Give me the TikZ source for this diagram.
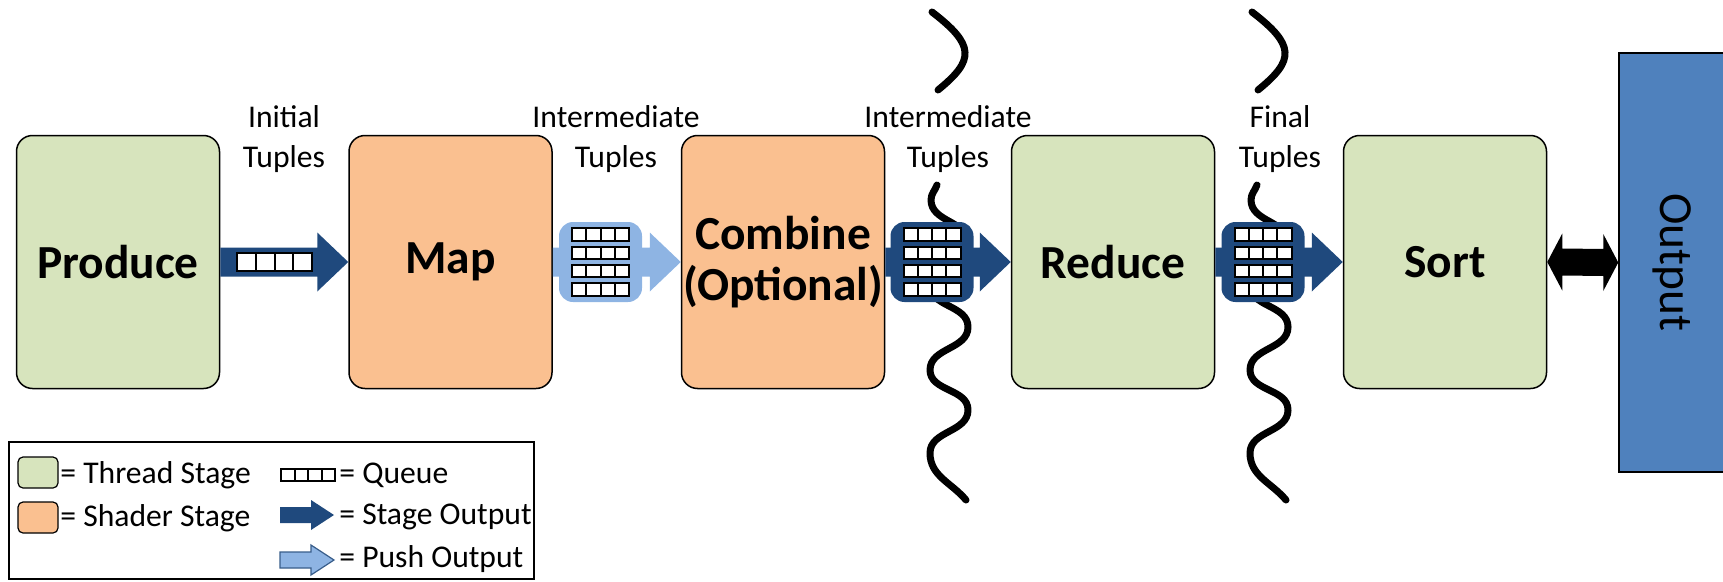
\documentclass[tikz,border=0pt]{standalone}
\usepackage{fontspec}
\setmainfont{Carlito}
\usepackage{tikz}
\usetikzlibrary{calc}
\definecolor{threadgreen}{HTML}{D7E4BD}
\definecolor{shaderorange}{HTML}{FAC090}
\definecolor{outblue}{HTML}{4F81BD}
\definecolor{stagedark}{HTML}{1F497D}
\definecolor{pushlight}{HTML}{8EB4E3}
\definecolor{pushedge}{HTML}{385D8A}
\newlength{\pxu}
\setlength{\pxu}{0.2mm}
\tikzset{
  stageBox/.style={draw=black, line width=1.5\pxu, rounded corners=16\pxu, minimum width=203\pxu, minimum height=253\pxu, inner sep=0pt, align=center, font=\fontsize{27}{29}\selectfont\bfseries},
  threadStage/.style={stageBox, fill=threadgreen},
  shaderStage/.style={stageBox, fill=shaderorange},
  outBox/.style={draw=black, line width=1.5\pxu, fill=outblue, minimum width=419\pxu, minimum height=106\pxu, inner sep=0pt, rotate=-90, font=\fontsize{27}{30}\selectfont},
  queueBlk/.style={rounded corners=14\pxu, minimum width=83\pxu, minimum height=80\pxu, inner sep=0pt},
  queueCell/.style={draw=black, fill=white, line width=2\pxu},
  tupleLbl/.style={align=center, inner sep=0pt, font=\fontsize{18}{22.8}\selectfont},
  legendTxt/.style={anchor=west, inner sep=0pt, font=\fontsize{18}{22}\selectfont},
  swatch/.style={draw=black, line width=1.2\pxu, rounded corners=5\pxu, minimum width=40\pxu, minimum height=31\pxu, inner sep=0pt},
  threadCut/.style={draw=black, line width=7\pxu, line cap=round, line join=round},
  stageArrow/.style={fill=stagedark},
  pushArrow/.style={fill=pushlight},
}
\newcommand{\StageArrow}[3]{%
  \path[#3] ($(#1.east)+(0,-14.5)$) -- ($(#2.west)+(-31,-14.5)$) -- ($(#2.west)+(-31,-29.5)$)
    -- (#2.west) -- ($(#2.west)+(-31,29.5)$) -- ($(#2.west)+(-31,14.5)$) -- ($(#1.east)+(0,14.5)$) -- cycle;
}
\newcommand{\QueueRow}[3]{%
  \foreach \c in {0,...,3}
    \draw[queueCell] ($(#1)+({\c*#2},0)$) rectangle ++(#2,#3);
}
\newcommand{\QueueStack}[1]{%
  \foreach \r in {0,...,3} {
    \coordinate (qrow) at ($(#1)+(-28.5,{-33.75+\r*18.33})$);
    \QueueRow{qrow}{14.25}{12.5}
  }
}
\newcommand{\IconArrow}[2]{%
  \path[#2] ($(#1)+(0,-8)$) -- ++(31,0) -- ++(0,-7) -- ++(23,15) -- ++(-23,15) -- ++(0,-7) -- ++(-31,0) -- cycle;
}
\newcommand{\ThreadCut}{%
  \draw[threadCut] (932,12) .. controls (975,45) and (975,60) .. (938,90);
  \draw[threadCut] (937,185) to[out=-110,in=90] (931,200) to[out=-90,in=90] (968,243)
    to[out=-90,in=90] (930,285) to[out=-90,in=90] (968,327) to[out=-90,in=90] (930,370)
    to[out=-90,in=90] (968,410) to[out=-90,in=90] (930,453) to[out=-90,in=130] (966,500);
}

\begin{document}
\begin{tikzpicture}[x=0.2mm,y=-0.2mm]
  \useasboundingbox (0,0) rectangle (1723,581);

  \node[threadStage] (produce) at (118,262) {Produce};
  \node[shaderStage] (map)     at (450.5,262) {Map};
  \node[shaderStage] (combine) at (783,262) {Combine\\(Optional)};
  \node[threadStage] (reduce)  at (1113,262) {Reduce};
  \node[threadStage] (sort)    at (1445,262) {Sort};
  \node[outBox] (output) at (1672,262.5) {Output};

  \ThreadCut
  \begin{scope}[shift={(320,0)}]
    \ThreadCut
  \end{scope}

  \StageArrow{produce}{map}{stageArrow}
  \StageArrow{map}{combine}{pushArrow}
  \StageArrow{combine}{reduce}{stageArrow}
  \StageArrow{reduce}{sort}{stageArrow}

  \fill (sort.east) -- ($(sort.east)+(15,-28.5)$) -- ($(sort.east)+(15,-13.5)$)
    -- ($(output.south)+(-15,-13.5)$) -- ($(output.south)+(-15,-28.5)$) -- (output.south)
    -- ($(output.south)+(-15,28.5)$) -- ($(output.south)+(-15,13.5)$)
    -- ($(sort.east)+(15,13.5)$) -- ($(sort.east)+(15,28.5)$) -- cycle;

  \coordinate (qinit) at (237,253);
  \QueueRow{qinit}{18.75}{18}
  \node[queueBlk, fill=pushlight] (qpush) at (600.5,262) {};
  \node[queueBlk, fill=stagedark] (qcomb) at (932,262) {};
  \node[queueBlk, fill=stagedark] (qred)  at (1263,262) {};
  \QueueStack{qpush}
  \QueueStack{qcomb}
  \QueueStack{qred}

  \node[tupleLbl] (lblInit)  at (284,139) {Initial\\Tuples};
  \node[tupleLbl] (lblMidA)  at (616,139) {Intermediate\\Tuples};
  \node[tupleLbl] (lblMidB)  at (948,139) {Intermediate\\Tuples};
  \node[tupleLbl] (lblFinal) at (1280,139) {Final\\Tuples};

  \draw[line width=1.5\pxu] (9,442) rectangle (534,579);
  \node[swatch, fill=threadgreen]  (swThread) at (38,472.5) {};
  \node[legendTxt] (lgThread) at (60,475) {= Thread Stage};
  \node[swatch, fill=shaderorange] (swShader) at (38,517.5) {};
  \node[legendTxt] (lgShader) at (60,518) {= Shader Stage};
  \coordinate (qicon) at (281,469);
  \QueueRow{qicon}{13.5}{12}
  \node[legendTxt] (lgQueue) at (339,475) {= Queue};
  \coordinate (aicon) at (280,515);
  \IconArrow{aicon}{stageArrow}
  \node[legendTxt] (lgStage) at (339,517) {= Stage Output};
  \coordinate (picon) at (280,560);
  \IconArrow{picon}{pushArrow, draw=pushedge, line width=1.2\pxu}
  \node[legendTxt] (lgPush) at (339,559) {= Push Output};
\end{tikzpicture}
\end{document}
